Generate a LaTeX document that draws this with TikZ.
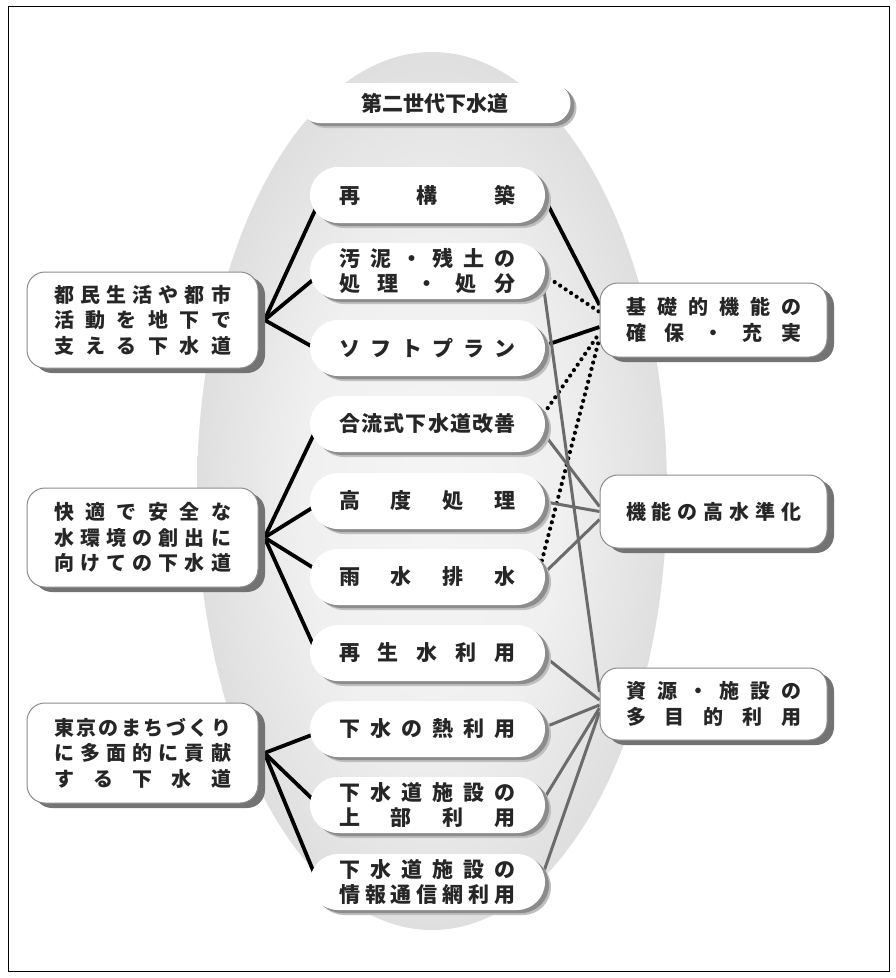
\documentclass[tikz,border=0pt]{standalone}
\usepackage{fontspec}
\newfontfamily\jpf{Noto Sans CJK JP}
\usetikzlibrary{shadows,backgrounds,calc}

\makeatletter
\def\spreadchars#1{\spread@a#1\@nil}
\def\spread@a#1#2\@nil{#1\ifx\relax#2\relax\else\hfil\spread@a#2\@nil\fi}
\makeatother
\newcommand\jline[2][177pt]{\makebox[#1][s]{\spreadchars{#2}}}

\pgfdeclareradialshading{ellshade}{\pgfpoint{0bp}{0bp}}{color(0bp)=(black!4); color(14bp)=(black!6); color(24bp)=(black!12); color(34bp)=(black!18); color(50bp)=(black!19)}

\tikzset{
  pill/.style={rectangle, rounded corners=28pt, minimum width=235pt, minimum height=56pt,
    inner sep=0pt, fill=white, align=center, text=black!85,
    font=\jpf\bfseries\fontsize{21}{25}\selectfont,
    general shadow={shadow xshift=6pt, shadow yshift=-5pt, fill=black!25},
    general shadow={shadow xshift=4pt, shadow yshift=-3pt, fill=black!45}},
  tpill/.style={pill, rounded corners=20pt, minimum width=271pt, minimum height=40pt},
  sidebox/.style={rectangle, rounded corners=18pt, draw=black!45, line width=1pt,
    fill=white, inner sep=0pt, align=center, text=black!85,
    font=\jpf\bfseries\fontsize{20}{25.5}\selectfont,
    general shadow={shadow xshift=7pt, shadow yshift=-5pt, fill=black!55}},
  lbox/.style={sidebox, minimum width=231pt},
  rbox/.style={sidebox, minimum width=227pt},
  blk/.style={line width=3.8pt, black},
  dotl/.style={line width=4.2pt, black, dash pattern=on 0pt off 6.6pt, line cap=round},
  gry/.style={line width=3pt, black!58},
}

\begin{document}
\begin{tikzpicture}[x=1pt,y=-1pt]
\useasboundingbox (0,0) rectangle (896,978);

% title and central pills
\node[tpill] (T) at (435,103) {第二世代下水道};
\node[pill] (P1) at (427.5,195) {\jline{再構築}};
\node[pill] (P2) at (427.5,271) {\jline{汚泥・残土の}\\\jline{処理・処分}};
\node[pill] (P3) at (427.5,348) {\jline{ソフトプラン}};
\node[pill] (P4) at (427.5,424) {\jline{合流式下水道改善}};
\node[pill] (P5) at (427.5,501) {\jline{高度処理}};
\node[pill] (P6) at (427.5,577) {\jline{雨水排水}};
\node[pill] (P7) at (427.5,653) {\jline{再生水利用}};
\node[pill] (P8) at (427.5,729) {\jline{下水の熱利用}};
\node[pill] (P9) at (427.5,805) {\jline{下水道施設の}\\\jline{上部利用}};
\node[pill] (P10) at (427.5,882) {\jline{下水道施設の}\\\jline{情報通信網利用}};

% left boxes
\node[lbox, minimum height=96pt] (L1) at (142.5,320) {\jline{都民生活や都市}\\\jline{活動を地下で}\\\jline{支える下水道}};
\node[lbox, minimum height=99pt] (L2) at (142.5,537.5) {\jline{快適で安全な}\\\jline{水環境の創出に}\\\jline{向けての下水道}};
\node[lbox, minimum height=100pt] (L3) at (142.5,753) {\jline{東京のまちづくり}\\\jline{に多面的に貢献}\\\jline{する下水道}};

% right boxes
\node[rbox, minimum height=74pt] (R1) at (713.5,320) {\jline[175pt]{基礎的機能の}\\\jline[175pt]{確保・充実}};
\node[rbox, minimum height=73pt] (R2) at (713.5,511.5) {\jline[175pt]{機能の高水準化}};
\node[rbox, minimum height=72pt] (R3) at (713.5,704) {\jline[175pt]{資源・施設の}\\\jline[175pt]{多目的利用}};

\begin{scope}[on background layer]
  \shade[shading=ellshade] (432,491) ellipse [x radius=235pt, y radius=439pt];

  % left connections
  \draw[blk] ($(L1.east)+(6,0)$) -- ($(P1.west)+(10,5)$);
  \draw[blk] ($(L1.east)+(6,0)$) -- ($(P2.west)+(15,-1)$);
  \draw[blk] ($(L1.east)+(6,0)$) -- ($(P3.west)+(12,4)$);
  \draw[blk] ($(L2.east)+(6,0)$) -- ($(P4.west)+(8,2)$);
  \draw[blk] ($(L2.east)+(6,0)$) -- ($(P5.west)+(15,-1)$);
  \draw[blk] ($(L2.east)+(6,0)$) -- ($(P6.west)+(15,-2)$);
  \draw[blk] ($(L2.east)+(6,0)$) -- ($(P7.west)+(8,2)$);
  \draw[blk] ($(L3.east)+(6,0)$) -- ($(P8.west)+(15,1)$);
  \draw[blk] ($(L3.east)+(6,0)$) -- ($(P9.west)+(12,3)$);
  \draw[blk] ($(L3.east)+(6,0)$) -- ($(P10.west)+(8,0)$);

  % right connections: basic functions
  \draw[blk]  ($(P1.east)+(-5,-5)$) -- ($(R1.west)+(0,-15)$);
  \draw[dotl] ($(P2.east)+(-7,0)$) -- ($(R1.west)+(0,-8)$);
  \draw[blk]  ($(P3.east)+(-5,-1)$) -- ($(R1.west)+(0,7)$);
  \draw[dotl] ($(P4.east)+(-5,-5)$) -- ($(R1.west)+(0,13)$);
  \draw[dotl] ($(P6.east)+(-5,-10)$) -- ($(R1.west)+(0,18)$);

  % higher level of functions
  \draw[gry] ($(P4.east)+(-5,5)$) -- ($(R2.west)+(0,-5)$);
  \draw[gry] ($(P5.east)+(-5,0)$) -- (R2.west);
  \draw[gry] ($(P6.east)+(-5,0)$) -- ($(R2.west)+(0,8)$);

  % multipurpose use
  \draw[gry] ($(P2.east)+(-3,6)$) -- ($(R3.west)+(0,-12)$);
  \draw[gry] ($(P7.east)+(-5,0)$) -- ($(R3.west)+(0,-4)$);
  \draw[gry] ($(P8.east)+(-5,0)$) -- ($(R3.west)+(0,1)$);
  \draw[gry] ($(P9.east)+(-5,0)$) -- ($(R3.west)+(0,4)$);
  \draw[gry] ($(P10.east)+(-5,0)$) -- ($(R3.west)+(0,8)$);
\end{scope}

\draw[line width=1pt] (8.5,6.5) rectangle (889,971);
\end{tikzpicture}
\end{document}
